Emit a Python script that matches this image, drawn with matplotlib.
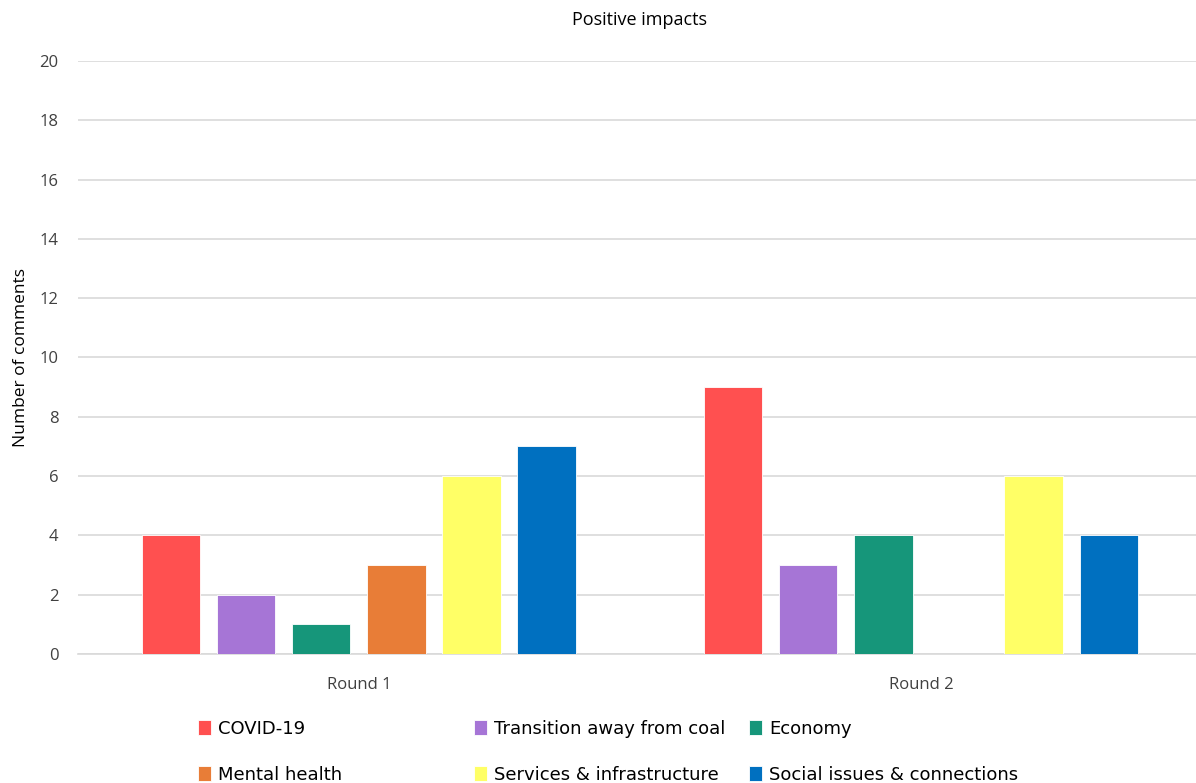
import matplotlib.pyplot as plt
import numpy as np

plt.rcParams['font.family'] = ['Open Sans', 'DejaVu Sans']

rounds = ['Round 1', 'Round 2']
categories = ['COVID-19', 'Transition away from coal', 'Economy',
              'Mental health', 'Services & infrastructure', 'Social issues & connections']
values = {
    'COVID-19': [4, 9],
    'Transition away from coal': [2, 3],
    'Economy': [1, 4],
    'Mental health': [3, 0],
    'Services & infrastructure': [6, 6],
    'Social issues & connections': [7, 4],
}
colors = ['#FF5050', '#A675D6', '#16967A', '#E87D37', '#FFFF66', '#0070C0']

fig = plt.figure(figsize=(11.96, 7.83), dpi=100)
ax = fig.add_axes([0.065, 0.165, 0.94, 0.757])

x = np.arange(len(rounds))
step = 0.1337
width = 0.104
handles = []
for i, (cat, col) in enumerate(zip(categories, colors)):
    offs = (i - 2.5) * step
    b = ax.bar(x + offs, values[cat], width, color=col, label=cat,
               edgecolor='white', linewidth=0.6, zorder=3)
    handles.append(b)

ax.set_xlim(-0.5, 1.5)
ax.set_ylim(0, 20)
ax.set_yticks(range(0, 21, 2))
ax.set_xticks(x)
ax.set_xticklabels(rounds)
ax.yaxis.grid(True, color='#D9D9D9', linewidth=1.2, zorder=0)
for s in ['top', 'right', 'left']:
    ax.spines[s].set_visible(False)
ax.spines['bottom'].set_color('#D9D9D9')
ax.spines['bottom'].set_linewidth(1.2)
ax.tick_params(axis='both', length=0, labelsize=12, colors='#404040')
ax.tick_params(axis='y', pad=14)
ax.tick_params(axis='x', pad=17)
ax.set_ylabel('Number of comments', fontsize=12.5, color='black', labelpad=7)
ax.set_title('Positive impacts', fontsize=13, pad=26)

# legend: three columns, two rows each
col_x = [0.158, 0.389, 0.619]
for c in range(3):
    hs = [handles[c], handles[c + 3]]
    labs = [categories[c], categories[c + 3]]
    fig.legend(hs, labs, loc='upper left', bbox_to_anchor=(col_x[c], 0.092),
               frameon=False, handlelength=0.7, handleheight=0.9, handletextpad=0.4,
               labelspacing=1.55, borderpad=0,
               prop={'family': ['Liberation Sans Narrow', 'DejaVu Sans'], 'size': 13})

fig.savefig('out.png', dpi=100)
